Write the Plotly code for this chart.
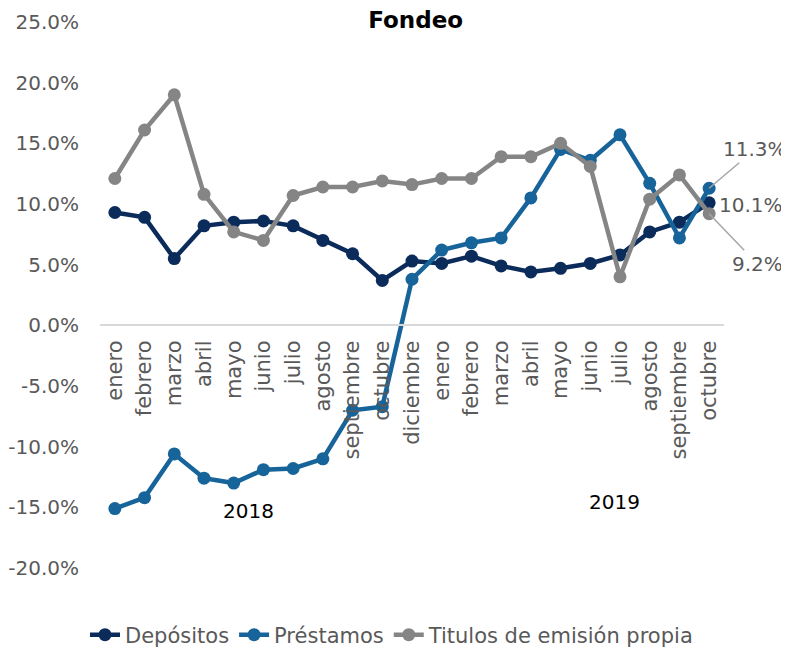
import plotly.graph_objects as go

# Categories (note: no "noviembre" in the source chart)
months = ["enero", "febrero", "marzo", "abril", "mayo", "junio", "julio",
          "agosto", "septiembre", "octubre", "diciembre",
          "enero", "febrero", "marzo", "abril", "mayo", "junio", "julio",
          "agosto", "septiembre", "octubre"]

depositos = [9.3, 8.9, 5.5, 8.2, 8.5, 8.6, 8.2, 7.0, 5.9, 3.7, 5.3,
             5.1, 5.7, 4.9, 4.4, 4.7, 5.1, 5.8, 7.7, 8.5, 10.1]
prestamos = [-15.1, -14.2, -10.6, -12.6, -13.0, -11.9, -11.8, -11.0, -7.0, -6.7, 3.8,
             6.2, 6.8, 7.2, 10.5, 14.5, 13.6, 15.7, 11.7, 7.2, 11.3]
titulos = [12.1, 16.1, 19.0, 10.8, 7.7, 7.0, 10.7, 11.4, 11.4, 11.9, 11.6,
           12.1, 12.1, 13.9, 13.9, 15.0, 13.1, 4.0, 10.4, 12.4, 9.2]

year_labels = ["2018", "2019"]
year_pos = [4.5, 16.8]
year_y = [-15.3, -14.6]

y_min, y_max = -20, 25
y_ticks = list(range(-20, 26, 5))

C_DEP = "#0B2C5B"
C_PRE = "#17649A"
C_TIT = "#858585"
TXT = "#595959"
FONT = "DejaVu Sans"

x = list(range(len(months)))

fig = go.Figure()
for name, vals, col in [("Depósitos", depositos, C_DEP),
                        ("Préstamos", prestamos, C_PRE),
                        ("Titulos de emisión propia", titulos, C_TIT)]:
    fig.add_trace(go.Scatter(
        x=x, y=vals, name=name, mode="lines+markers",
        line=dict(color=col, width=4.5),
        marker=dict(color=col, size=13),
        cliponaxis=False,
    ))

# end-of-series labels
last = len(months) - 1
fig.add_annotation(x=last, y=prestamos[-1], text=f"{prestamos[-1]:.1f}%",
                   showarrow=True, arrowhead=0, arrowcolor="#a6a6a6", arrowwidth=1.5,
                   ax=46, ay=-39,
                   font=dict(size=20, color=TXT, family=FONT))
fig.add_annotation(x=last, y=depositos[-1], text=f"{depositos[-1]:.1f}%",
                   showarrow=False, xanchor="left", xshift=8, yshift=-2,
                   font=dict(size=20, color=TXT, family=FONT))
fig.add_annotation(x=last, y=titulos[-1], text=f"{titulos[-1]:.1f}%",
                   showarrow=True, arrowhead=0, arrowcolor="#a6a6a6", arrowwidth=1.5,
                   ax=48, ay=50,
                   font=dict(size=20, color=TXT, family=FONT))

for lbl, pos, yy in zip(year_labels, year_pos, year_y):
    fig.add_annotation(x=pos, y=yy, text=lbl, showarrow=False,
                       font=dict(size=20, color="#000000", family=FONT))

# the page body adds an 8px margin, so the figure is 8px smaller
fig.update_layout(
    width=781, height=640,
    margin=dict(l=92, r=65, t=14, b=80, autoexpand=False),
    paper_bgcolor="white", plot_bgcolor="white",
    font=dict(family=FONT, color=TXT, size=20),
    title=dict(text="<b>Fondeo</b>", x=0.522, xanchor="center",
               y=1 - 12 / 640, yanchor="middle",
               font=dict(size=23, color="#000000", family=FONT)),
    showlegend=True,
    legend=dict(orientation="h", xref="container", x=(392 - 8) / 781,
                xanchor="center",
                y=-(635 - 568) / 546, yanchor="middle",
                font=dict(size=21, color=TXT, family=FONT),
                tracegroupgap=0),
    xaxis=dict(
        range=[-0.5, len(months) - 0.5],
        tickmode="array", tickvals=x, ticktext=months,
        tickangle=-90, ticks="", ticklabelstandoff=6,
        showgrid=False, zeroline=False,
        showline=True, linecolor="#d9d9d9", linewidth=1.5,
        anchor="free", position=(0 - y_min) / (y_max - y_min),
        tickfont=dict(size=21, color=TXT, family=FONT),
    ),
    yaxis=dict(
        range=[y_min, y_max], tickvals=y_ticks,
        ticktext=[f"{v:.1f}%" for v in y_ticks],
        showgrid=False, zeroline=False, showline=False, ticks="",
        ticklabelstandoff=20,
        tickfont=dict(size=20, color=TXT, family=FONT),
    ),
)

fig.write_html("out.html")
